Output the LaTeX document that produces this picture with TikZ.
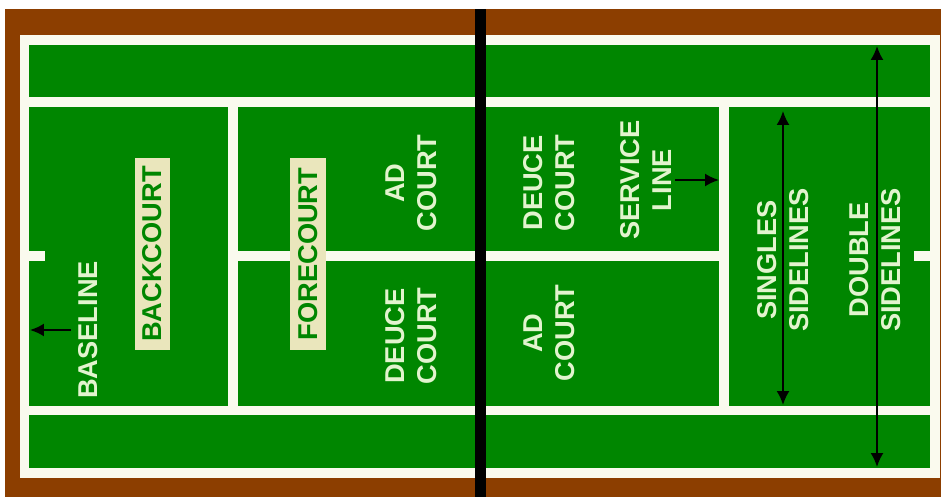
\documentclass[tikz,border=0pt]{standalone}
\usepackage{fontspec}
\setmainfont{Liberation Sans}
\usetikzlibrary{arrows.meta}
\definecolor{clay}{RGB}{140,62,0}
\definecolor{turf}{RGB}{0,134,0}
\definecolor{chalk}{RGB}{250,250,238}
\definecolor{lettering}{RGB}{226,244,206}
\definecolor{tag}{RGB}{234,230,188}

\begin{document}
\begin{tikzpicture}[x=0.02cm,y=0.02cm,
  courtline/.style={chalk, line width=0.2cm},
  courtlabel/.style={text=lettering, font=\bfseries\fontsize{15.5}{18.2}\selectfont, align=center, rotate=90, inner sep=0pt},
  zonetag/.style={fill=tag, text=turf, font=\bfseries\fontsize{15.5}{18.2}\selectfont, rotate=90, minimum width=3.84cm, minimum height=0.72cm, inner sep=0pt},
  pointer/.style={black, line width=1.1pt, -{Latex[length=0.28cm,width=0.26cm]}},
  twoway/.style={black, line width=1.1pt, {Latex[length=0.28cm,width=0.26cm]}-{Latex[length=0.28cm,width=0.26cm]}}]
\useasboundingbox (0,0) rectangle (943,497);
\fill[clay] (5,0) rectangle (941,488);
\fill[turf] (24.5,24) rectangle (934.5,456.5);
\draw[courtline] (24.5,24) rectangle (934.5,456.5);
\draw[courtline] (24.5,395) -- (934.5,395);
\draw[courtline] (24.5,86.5) -- (934.5,86.5);
\draw[courtline] (232.5,86.5) -- (232.5,395);
\draw[courtline] (724,86.5) -- (724,395);
\draw[courtline] (232.5,241) -- (724,241);
\draw[courtline] (24.5,241) -- (45,241);
\draw[courtline] (914,241) -- (934.5,241);
\fill[black] (475,0) rectangle (486,488);

\node[zonetag] (backcourt) at (152.5,243) {BACKCOURT};
\node[zonetag] (forecourt) at (308,243) {FORECOURT};
\node[courtlabel] (baseline) at (88,167) {BASELINE};
\node[courtlabel] (adleft) at (411,314) {AD\\COURT};
\node[courtlabel] (deuceleft) at (411,161) {DEUCE\\COURT};
\node[courtlabel] (deuceright) at (549,314) {DEUCE\\COURT};
\node[courtlabel] (adright) at (549,164) {AD\\COURT};
\node[courtlabel] (service) at (646,317) {SERVICE\\LINE};
\node[courtlabel] (singles) at (783,237) {SINGLES\\SIDELINES};
\node[courtlabel] (doubles) at (875,237) {DOUBLE\\SIDELINES};

\coordinate (baselineend) at (30,167);
\coordinate (serviceend) at (719,314);
\coordinate (singlestop) at (783,386);
\coordinate (singlesbot) at (783,92);
\coordinate (doublestop) at (877,451);
\coordinate (doublesbot) at (877,30);

\draw[pointer] ([xshift=-4]baseline.north) -- (baselineend);
\draw[pointer] ([xshift=2]service.south) -- (service.south -| serviceend);
\draw[twoway] (singlestop) -- (singlesbot);
\draw[twoway] (doublestop) -- (doublesbot);
\end{tikzpicture}
\end{document}
